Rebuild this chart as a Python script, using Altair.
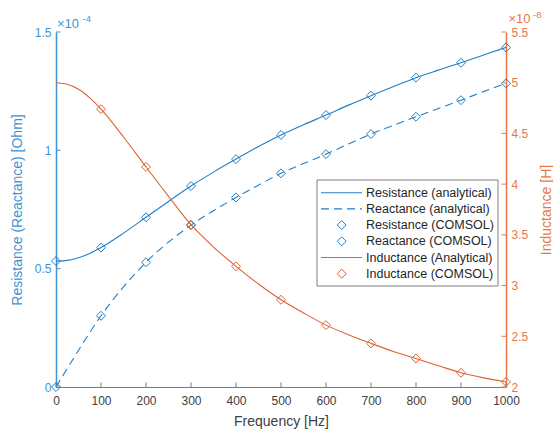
import altair as alt
import pandas as pd

# ---------------- data ----------------
freq_comsol = [0, 100, 200, 300, 400, 500, 600, 700, 800, 900, 1000]
resistance_comsol = [0.532, 0.589, 0.717, 0.849, 0.963, 1.065, 1.149, 1.231, 1.307, 1.370, 1.435]  # x1e-4 Ohm
reactance_comsol = [0.0, 0.301, 0.527, 0.684, 0.801, 0.903, 0.984, 1.069, 1.142, 1.212, 1.283]    # x1e-4 Ohm
freq_inductance_comsol = [100, 200, 300, 400, 500, 600, 700, 800, 900, 1000]
inductance_comsol = [4.74, 4.17, 3.60, 3.19, 2.86, 2.61, 2.43, 2.28, 2.14, 2.05]                  # x1e-8 H

freq_analytical = [0, 25, 50, 75, 100, 150, 200, 250, 300, 350, 400, 450, 500,
                   550, 600, 650, 700, 750, 800, 850, 900, 950, 1000]
resistance_analytical = [0.532, 0.535, 0.546, 0.564, 0.589, 0.650, 0.717, 0.784, 0.849, 0.908,
                         0.963, 1.016, 1.065, 1.108, 1.149, 1.191, 1.231, 1.270, 1.307, 1.339,
                         1.370, 1.403, 1.435]
reactance_analytical = [0.0, 0.078, 0.155, 0.230, 0.301, 0.423, 0.527, 0.612, 0.684, 0.745,
                        0.801, 0.853, 0.903, 0.944, 0.984, 1.027, 1.069, 1.106, 1.142, 1.177,
                        1.212, 1.248, 1.283]
inductance_analytical = [5.00, 4.985, 4.935, 4.85, 4.74, 4.465, 4.17, 3.88, 3.60, 3.38,
                         3.19, 3.015, 2.86, 2.73, 2.61, 2.515, 2.43, 2.35, 2.28, 2.21,
                         2.14, 2.09, 2.05]

x_ticks = [0, 100, 200, 300, 400, 500, 600, 700, 800, 900, 1000]
left_ticks = [0, 0.5, 1, 1.5]
right_ticks = [2, 2.5, 3, 3.5, 4, 4.5, 5, 5.5]

legend_labels = ["Resistance (analytical)", "Reactance (analytical)", "Resistance (COMSOL)",
                 "Reactance (COMSOL)", "Inductance (Analytical)", "Inductance (COMSOL)"]
legend_kinds = ["line", "dash", "diamond", "diamond", "line", "diamond"]
legend_colors = ["blue", "blue", "blue", "blue", "orange", "orange"]

# ---------------- styling ----------------
BLUE = "#1F7FC8"
ORANGE = "#DD6232"
BLUE_T = "#3F93D4"
ORANGE_T = "#E5794A"
DARK = "#262626"
AXGRAY = "#7a7a7a"
FONT = "Liberation Sans"
W, H = 450, 355
COL = {"blue": BLUE, "orange": ORANGE}

pts = pd.DataFrame({"f": freq_comsol, "R": resistance_comsol, "X": reactance_comsol})
ind_pts_df = pd.DataFrame({"f": freq_inductance_comsol, "L": inductance_comsol})
ana = pd.DataFrame({"f": freq_analytical, "R": resistance_analytical,
                    "X": reactance_analytical, "L": inductance_analytical})

xscale = alt.Scale(domain=[0, 1000], nice=False, zero=False)
lscale = alt.Scale(domain=[0, 1.5], nice=False)
rscale = alt.Scale(domain=[2, 5.5], nice=False, zero=False)

xaxis = alt.Axis(values=x_ticks, title="Frequency [Hz]", ticks=False, grid=False,
                 domainColor=AXGRAY, domainWidth=1, labelColor="#404040", titleColor="#404040",
                 labelFont=FONT, labelFontSize=12, titleFont=FONT, titleFontSize=14,
                 titleFontWeight="normal", labelPadding=8, titlePadding=8, format="d",
                 labelFlush=False)
laxis = alt.Axis(values=left_ticks, title="Resistance (Reactance) [Ohm]", orient="left",
                 ticks=False, grid=False, domainColor=BLUE_T, domainWidth=1.5,
                 labelColor=BLUE_T, titleColor=BLUE_T, labelFont=FONT, labelFontSize=12,
                 titleFont=FONT, titleFontSize=14, titleFontWeight="normal",
                 labelPadding=5, titlePadding=10, format="~g", labelFlush=False)
raxis = alt.Axis(values=right_ticks, title="Inductance [H]", orient="right",
                 ticks=False, grid=False, domainColor=ORANGE_T, domainWidth=1.5,
                 labelColor=ORANGE_T, titleColor=ORANGE_T, labelFont=FONT, labelFontSize=12,
                 titleFont=FONT, titleFontSize=14, titleFontWeight="normal", titleAngle=270,
                 titleBaseline="middle", titleAlign="center", titleX=40, titleY=H / 2,
                 labelPadding=5, format="~g", labelFlush=False)

X = alt.X("f:Q", scale=xscale, axis=xaxis)

# ---------------- left (resistance / reactance) ----------------
res_line = alt.Chart(ana).mark_line(color=BLUE, strokeWidth=1.1, interpolate="monotone").encode(
    x=X, y=alt.Y("R:Q", scale=lscale, axis=laxis))
rea_line = alt.Chart(ana).mark_line(color=BLUE, strokeWidth=1.1, strokeDash=[8, 5],
                                    interpolate="monotone").encode(
    x=X, y=alt.Y("X:Q", scale=lscale, axis=laxis))
res_pts = alt.Chart(pts).mark_point(shape="diamond", filled=False, size=80, color=BLUE,
                                    strokeWidth=1, opacity=1).encode(
    x=X, y=alt.Y("R:Q", scale=lscale, axis=laxis))
rea_pts = alt.Chart(pts).mark_point(shape="diamond", filled=False, size=80, color=BLUE,
                                    strokeWidth=1, opacity=1).encode(
    x=X, y=alt.Y("X:Q", scale=lscale, axis=laxis))
ltick = alt.Chart(pd.DataFrame({"v": left_ticks})).mark_rule(color=BLUE_T, strokeWidth=1).encode(
    y=alt.Y("v:Q", scale=lscale, axis=laxis), x=alt.value(0), x2=alt.value(4.5))
xtick = alt.Chart(pd.DataFrame({"t": x_ticks})).mark_rule(color=AXGRAY, strokeWidth=1).encode(
    x=alt.X("t:Q", scale=xscale, axis=xaxis), y=alt.value(H), y2=alt.value(H - 4.5))

left = alt.layer(res_line, rea_line, res_pts, rea_pts, ltick, xtick)

# ---------------- right (inductance) ----------------
ind_line = alt.Chart(ana).mark_line(color=ORANGE, strokeWidth=1.1, interpolate="monotone").encode(
    x=X, y=alt.Y("L:Q", scale=rscale, axis=raxis))
ind_pts = alt.Chart(ind_pts_df).mark_point(shape="diamond", filled=False, size=80, color=ORANGE,
                                           strokeWidth=1, opacity=1).encode(
    x=X, y=alt.Y("L:Q", scale=rscale, axis=raxis))
rtick = alt.Chart(pd.DataFrame({"v": right_ticks})).mark_rule(color=ORANGE_T, strokeWidth=1).encode(
    y=alt.Y("v:Q", scale=rscale, axis=raxis), x=alt.value(W), x2=alt.value(W - 4.5))

right = alt.layer(ind_line, ind_pts, rtick)

# ---------------- legend (drawn by hand, MATLAB style) ----------------
one = pd.DataFrame({"a": [0]})
LX0, LX1, LY0, LY1 = 261, 442, 148, 254
legend_layers = [alt.Chart(one).mark_rect(fill="white", stroke="#7f7f7f", strokeWidth=1).encode(
    x=alt.value(LX0), x2=alt.value(LX1), y=alt.value(LY0), y2=alt.value(LY1))]
for i, (lab, kind, c) in enumerate(zip(legend_labels, legend_kinds, legend_colors)):
    yy = 160.7 + i * 16.2
    if kind == "line":
        legend_layers.append(alt.Chart(one).mark_rule(color=COL[c], strokeWidth=1.1).encode(
            x=alt.value(265), x2=alt.value(306), y=alt.value(yy)))
    elif kind == "dash":
        legend_layers.append(alt.Chart(one).mark_rule(color=COL[c], strokeWidth=1.1,
                                                      strokeDash=[8, 5]).encode(
            x=alt.value(265), x2=alt.value(306), y=alt.value(yy)))
    else:
        legend_layers.append(alt.Chart(one).mark_point(shape="diamond", filled=False, size=80,
                                                       color=COL[c], strokeWidth=1,
                                                       opacity=1).encode(
            x=alt.value(285.7), y=alt.value(yy)))
    legend_layers.append(alt.Chart(one).mark_text(text=lab, align="left", baseline="middle",
                                                  font=FONT, fontSize=12.5, color=DARK).encode(
        x=alt.value(310), y=alt.value(yy)))

# ---------------- exponent annotations ----------------
annots = [
    alt.Chart(one).mark_text(text="\u00d710", align="left", baseline="alphabetic", font=FONT,
                             fontSize=13, color=BLUE_T).encode(x=alt.value(1), y=alt.value(-4.5)),
    alt.Chart(one).mark_text(text="-4", align="left", baseline="alphabetic", font=FONT,
                             fontSize=9.5, color=BLUE_T).encode(x=alt.value(26.5), y=alt.value(-10.5)),
    alt.Chart(one).mark_text(text="\u00d710", align="left", baseline="alphabetic", font=FONT,
                             fontSize=13, color=ORANGE_T).encode(x=alt.value(452.5), y=alt.value(-8.7)),
    alt.Chart(one).mark_text(text="-8", align="left", baseline="alphabetic", font=FONT,
                             fontSize=9.5, color=ORANGE_T).encode(x=alt.value(477), y=alt.value(-14.5)),
]

chart = alt.layer(left, right, *legend_layers, *annots).resolve_scale(
    y="independent"
).properties(
    width=W, height=H,
    autosize=alt.AutoSizeParams(type="none"),
    padding={"left": 56, "top": 32, "right": 47, "bottom": 45},
).configure_view(stroke=None)

chart.save("out.html", embed_options={"renderer": "svg", "actions": False})
